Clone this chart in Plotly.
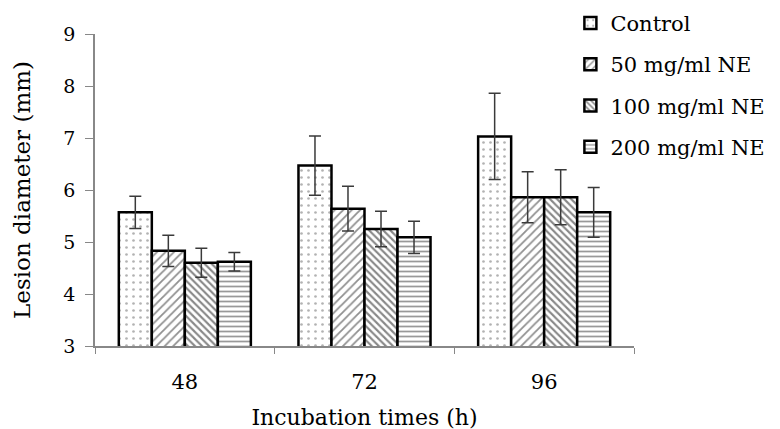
import plotly.graph_objects as go

categories = ["48", "72", "96"]
series_names = ["Control", "50 mg/ml NE", "100 mg/ml NE", "200 mg/ml NE"]
control = [5.57, 6.47, 7.03]
ne50 = [4.83, 5.64, 5.86]
ne100 = [4.60, 5.25, 5.86]
ne200 = [4.62, 5.09, 5.57]
control_err = [0.31, 0.57, 0.83]
ne50_err = [0.30, 0.43, 0.49]
ne100_err = [0.28, 0.34, 0.53]
ne200_err = [0.18, 0.31, 0.48]

values = [control, ne50, ne100, ne200]
errors = [control_err, ne50_err, ne100_err, ne200_err]
patterns = [
    dict(shape=".", size=7, solidity=0.12, fgcolor="#666666", bgcolor="white"),
    dict(shape="/", size=6, solidity=0.3, fgcolor="#222222", bgcolor="white"),
    dict(shape="\\", size=5, solidity=0.42, fgcolor="#111111", bgcolor="white"),
    dict(shape="-", size=5, solidity=0.35, fgcolor="#333333", bgcolor="white"),
]

FONT = "DejaVu Serif"

fig = go.Figure()
for i, name in enumerate(series_names):
    fig.add_trace(go.Bar(
        x=categories, y=values[i], name=name,
        legendgroup=name,
        marker=dict(color="white", pattern=patterns[i],
                    line=dict(color="black", width=2.5)),
        error_y=dict(type="data", array=errors[i], visible=True,
                     color="#3a3a3a", thickness=1.5, width=6),
    ))

fig.update_layout(
    width=780, height=429,
    margin=dict(l=87, r=154, t=26, b=91, autoexpand=False),
    paper_bgcolor="white", plot_bgcolor="white",
    barmode="group", bargap=0.265, bargroupgap=0,
    font=dict(family=FONT, color="black", size=20),
    legend=dict(x=0.882, y=1.10, xanchor="left", yanchor="top",
                font=dict(family=FONT, size=21, color="black"),
                tracegroupgap=11, bgcolor="rgba(0,0,0,0)"),
    xaxis=dict(
        type="category",
        showline=True, linecolor="#888888", linewidth=1.5,
        ticks="outside", tickson="boundaries", ticklen=6, tickcolor="#888888",
        tickfont=dict(family=FONT, size=21),
        ticklabelstandoff=16,
        title=dict(text="Incubation times (h)", font=dict(family=FONT, size=22), standoff=17),
        showgrid=False,
    ),
    yaxis=dict(
        range=[3, 9], dtick=1,
        showline=True, linecolor="#888888", linewidth=1.5,
        ticks="outside", ticklen=8, tickcolor="#888888",
        tickfont=dict(family=FONT, size=19),
        ticklabelstandoff=6,
        title=dict(text="Lesion diameter (mm)", font=dict(family=FONT, size=23), standoff=26),
        showgrid=False, zeroline=False,
    ),
)

fig.write_html("out.html")
